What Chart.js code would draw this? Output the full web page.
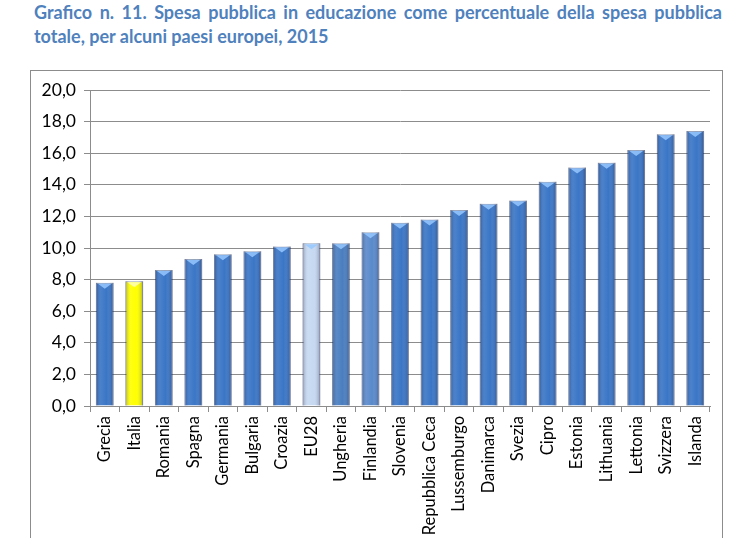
<!DOCTYPE html>
<html>
<head>
<meta charset="utf-8">
<script src="https://cdn.jsdelivr.net/npm/chart.js@4.4.0/dist/chart.umd.min.js"></script>
<style>
    body { margin: 0; background: #fff; width: 750px; height: 538px; overflow: hidden; position: relative; }
    .titolo {
        position: absolute; left: 34px; width: 688px;
        font-family: Lato, "Open Sans", sans-serif; font-weight: bold; font-size: 18px;
        line-height: 25px; color: #4F81BD; white-space: nowrap;
    }
    #riga1 { top: 0px; text-align: justify; text-align-last: justify; white-space: normal; }
    #riga2 { top: 24px; }
    #cornice { position: absolute; left: 30px; top: 70px; width: 691px; height: 480px; border: 1px solid #8c8c8c; }
    #wrap { position: absolute; left: 31px; top: 71px; width: 690px; height: 467px; }
</style>
</head>
<body>
<div class="titolo" id="riga1">Grafico n. 11. Spesa pubblica in educazione come percentuale della spesa pubblica</div>
<div class="titolo" id="riga2">totale, per alcuni paesi europei, 2015</div>
<div id="cornice"></div>
<div id="wrap"><canvas id="grafico"></canvas></div>
<script>
const paesi = ['Grecia', 'Italia', 'Romania', 'Spagna', 'Germania', 'Bulgaria', 'Croazia', 'EU28',
    'Ungheria', 'Finlandia', 'Slovenia', 'Repubblica Ceca', 'Lussemburgo', 'Danimarca', 'Svezia',
    'Cipro', 'Estonia', 'Lithuania', 'Lettonia', 'Svizzera', 'Islanda'];
const spesa = [7.8, 7.9, 8.6, 9.3, 9.6, 9.8, 10.1, 10.3, 10.3, 11.0, 11.6, 11.8, 12.4, 12.8, 13.0,
    14.2, 15.1, 15.4, 16.2, 17.2, 17.4];
const colori = paesi.map(p => {
    if (p === 'Italia') return '#FFFF00';
    if (p === 'EU28') return '#C6D9F1';
    if (p === 'Ungheria') return '#4A7EC0';
    if (p === 'Finlandia') return '#5A8ACB';
    return '#3A76C6';
});

// sfumatura orizzontale delle barre e triangolino chiaro in cima
const barreSfumate = {
    id: 'barreSfumate',
    afterDatasetsDraw(chart) {
        const ctx = chart.ctx;
        chart.getDatasetMeta(0).data.forEach((bar, i) => {
            const w = bar.width, x0 = bar.x - w / 2, top = bar.y, bottom = bar.base;
            const g = ctx.createLinearGradient(x0, 0, x0 + w, 0);
            g.addColorStop(0, 'rgba(0,0,40,0.28)');
            g.addColorStop(0.3, 'rgba(255,255,255,0.08)');
            g.addColorStop(0.6, 'rgba(255,255,255,0)');
            g.addColorStop(1, 'rgba(0,0,40,0.3)');
            ctx.save();
            ctx.fillStyle = g;
            ctx.fillRect(x0, top, w, bottom - top);
            ctx.fillStyle = i === 1 ? 'rgba(255,255,200,0.8)' : 'rgba(150,200,255,0.85)';
            ctx.beginPath();
            ctx.moveTo(x0 + 2, top + 1);
            ctx.lineTo(x0 + w - 2, top + 1);
            ctx.lineTo(bar.x, top + 6);
            ctx.closePath();
            ctx.fill();
            ctx.restore();
        });
    }
};

new Chart(document.getElementById('grafico'), {
    type: 'bar',
    data: {
        labels: paesi,
        datasets: [{
            data: spesa,
            backgroundColor: colori,
            borderColor: 'rgba(40,70,120,0.5)',
            borderWidth: 1,
            barPercentage: 0.6,
            categoryPercentage: 1
        }]
    },
    options: {
        responsive: true,
        maintainAspectRatio: false,
        animation: false,
        layout: { padding: { top: 19, right: 11, left: 0, bottom: 0 } },
        plugins: { legend: { display: false }, tooltip: { enabled: false } },
        scales: {
            y: {
                min: 0, max: 20,
                ticks: {
                    stepSize: 2, color: '#000', padding: 8,
                    font: { family: 'Lato, "Open Sans", sans-serif', size: 17.5 },
                    callback: v => v.toFixed(1).replace('.', ',')
                },
                grid: { color: '#8c8c8c', tickLength: 6, lineWidth: 1 },
                border: { color: '#8c8c8c' },
                afterFit(s) { s.width = 59; }
            },
            x: {
                ticks: {
                    color: '#000', maxRotation: 90, minRotation: 90, autoSkip: false, padding: 4,
                    font: { family: 'Lato, "Open Sans", sans-serif', size: 16.5 }
                },
                grid: { drawOnChartArea: false, color: '#8c8c8c', tickLength: 6, offset: true },
                border: { color: '#8c8c8c' },
                afterFit(s) { s.height = 132; }
            }
        }
    },
    plugins: [barreSfumate]
});
</script>
</body>
</html>
